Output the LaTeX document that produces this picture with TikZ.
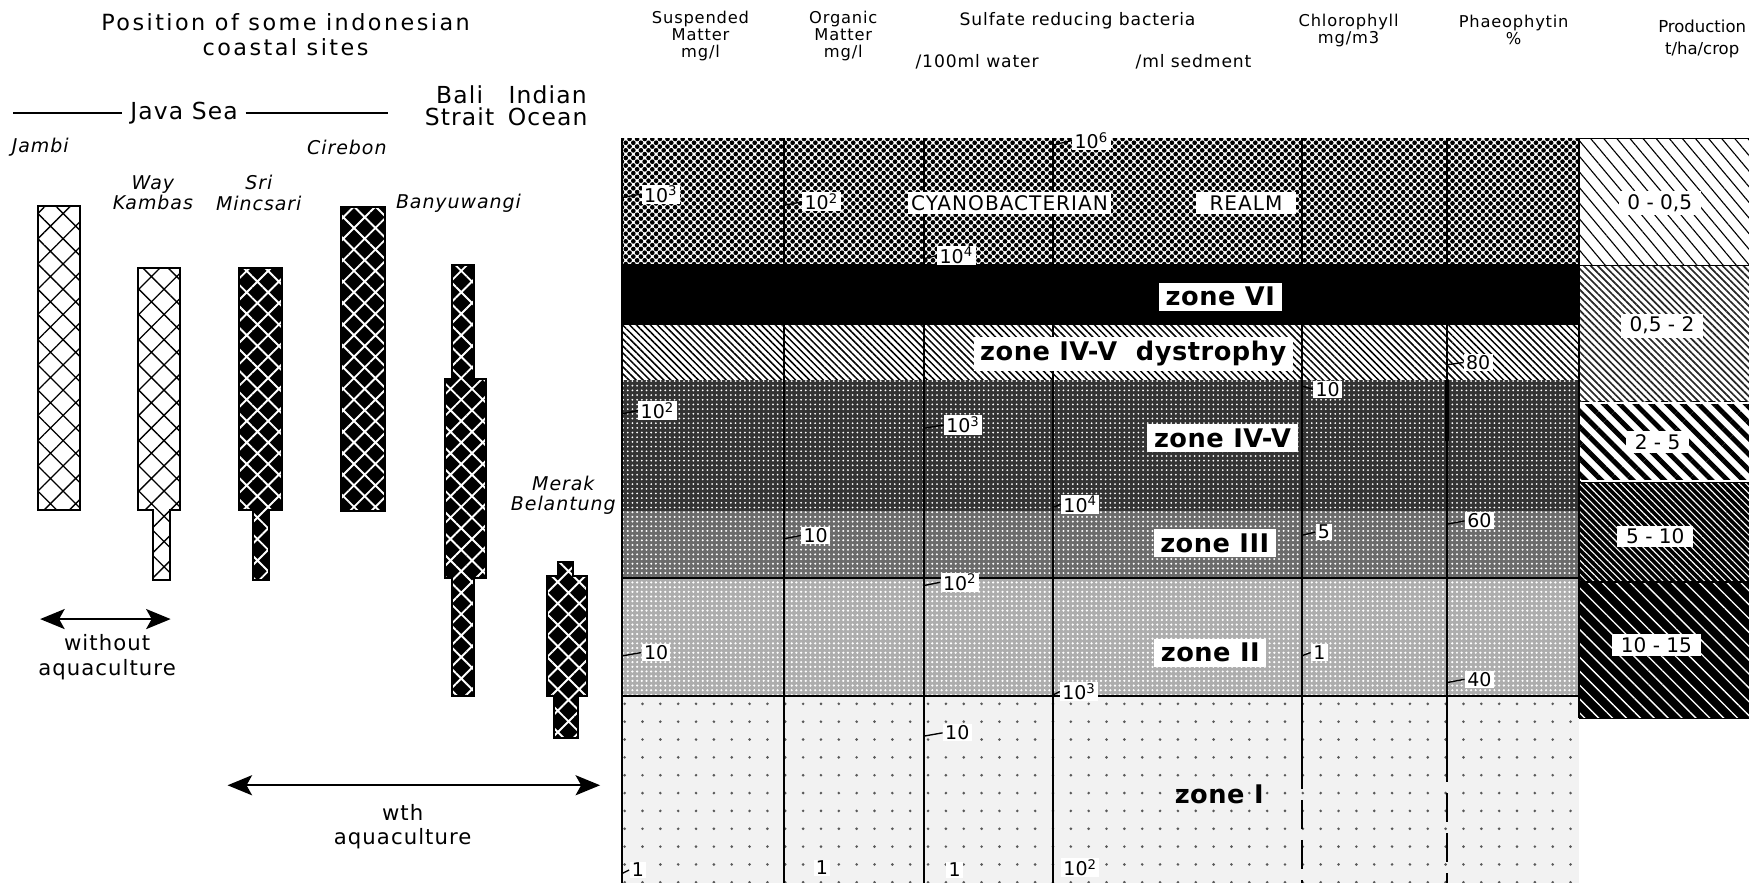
\documentclass[tikz,border=0pt]{standalone}
\usepackage{fontspec}
\setmainfont{DejaVu Sans}
\newfontfamily\titlefont[LetterSpace=11]{DejaVu Sans}
\newfontfamily\hdrfont[LetterSpace=5]{DejaVu Sans}
\newfontfamily\zonefont[LetterSpace=2]{DejaVu Sans}
\usetikzlibrary{patterns.meta,arrows.meta}
\tikzset{
  realm/.style={fill=white, postaction={pattern={Dots[distance=3.4pt,radius=1.05pt]},pattern color=black}, postaction={pattern={Dots[distance=3.4pt,radius=1.05pt,xshift=1.7pt,yshift=1.7pt]},pattern color=black}},
  zsix/.style={fill=black},
  dystro/.style={fill=white, postaction={pattern={Lines[angle=-45,distance=2.2pt,line width=0.68pt]},pattern color=black}},
  zfour/.style={fill=black!80, postaction={pattern={Dots[distance=2.1pt,radius=0.45pt]},pattern color=white}},
  zthree/.style={fill=black!58, postaction={pattern={Dots[distance=2.1pt,radius=0.5pt]},pattern color=white}},
  ztwo/.style={fill=black!32, postaction={pattern={Dots[distance=2.1pt,radius=0.55pt]},pattern color=white}},
  zonea/.style={fill=black!5, postaction={pattern={Dots[distance=8pt,radius=0.65pt]},pattern color=black!65}},
  pa/.style={fill=white, postaction={pattern={Lines[angle=-50,distance=4.5pt,line width=0.5pt]},pattern color=black}},
  pb/.style={fill=white, postaction={pattern={Lines[angle=-45,distance=2.2pt,line width=0.75pt]},pattern color=black!85}},
  pc/.style={fill=white, postaction={pattern={Lines[angle=-45,distance=5pt,line width=2.2pt]},pattern color=black}},
  pd/.style={fill=black, postaction={pattern={Lines[angle=-45,distance=2.2pt,line width=0.5pt]},pattern color=white}},
  pe/.style={fill=black, postaction={pattern={Lines[angle=-45,distance=4.4pt,line width=0.6pt]},pattern color=white}},
  lightbar/.style={preaction={fill=white}, pattern={Hatch[angle=45,distance=8pt,line width=0.6pt]}, pattern color=black, draw=black, line width=0.9pt},
  darkbar/.style={preaction={fill=black}, pattern={Hatch[angle=45,distance=6.8pt,line width=0.85pt]}, pattern color=white, draw=black, line width=0.9pt},
  col/.style={line width=0.9pt},
  dcol/.style={line width=0.9pt, dash pattern=on 13pt off 5pt},
  val/.style={fill=white, inner xsep=1pt, inner ysep=0.6pt, anchor=west, font=\fontsize{8.5}{9}\selectfont},
  zlab/.style={fill=white, inner xsep=3pt, inner ysep=2pt, font=\zonefont\bfseries\fontsize{11.5}{12}\selectfont},
  prod/.style={fill=white, inner xsep=4pt, inner ysep=1.5pt, font=\fontsize{9}{10}\selectfont},
  hdr/.style={align=center, font=\hdrfont\fontsize{7.3}{7.6}\selectfont},
  site/.style={align=center, font=\hdrfont\itshape\fontsize{8.5}{9}\selectfont},
  sea/.style={align=center, font=\hdrfont\fontsize{10.5}{10}\selectfont},
  tick/.style={line width=0.6pt},
  dbl/.style={{Stealth[length=11pt,width=9pt,inset=2.5pt]}-{Stealth[length=11pt,width=9pt,inset=2.5pt]}, line width=0.9pt}
}
\begin{document}
\begin{tikzpicture}[x=0.5pt,y=-0.5pt]
\useasboundingbox (0,0) rectangle (1568,791);
\clip (0,0) rectangle (1568,791);
% ---------------- left part ----------------
\node[align=center, font=\titlefont\fontsize{10}{11.5}\selectfont] (title) at (256,31) {Position of some indonesian\\coastal sites};
\node[sea] (java) at (165,101) {Java Sea};
\coordinate (jl) at (12,101); \coordinate (jr) at (348,101);
\draw[line width=0.8pt] (jl) -- (java.west);
\draw[line width=0.8pt] (java.east) -- (jr);
\node[sea] (bali) at (412,95) {Bali\\Strait};
\node[sea] (indian) at (491,95) {Indian\\Ocean};
\node[site] (jambi) at (36,132) {Jambi};
\node[site] (cirebon) at (311,132) {Cirebon};
\node[site] (way) at (137,173) {Way\\Kambas};
\node[site] (sri) at (232,173) {Sri\\Mincsari};
\node[site] (banyu) at (411,182) {Banyuwangi};
\node[site] (merak) at (505,444) {Merak\\Belantung};
% bars
\path[lightbar] (34,185) rectangle (72,457);
\path[lightbar] (124,240) -- (161,240) -- (161,457) -- (152,457) -- (152,520) -- (137,520) -- (137,457) -- (124,457) -- cycle;
\path[darkbar] (214,240) -- (253,240) -- (253,457) -- (241,457) -- (241,520) -- (227,520) -- (227,457) -- (214,457) -- cycle;
\path[darkbar] (306,186) rectangle (345,458);
\path[darkbar] (405,238) -- (425,238) -- (425,340) -- (436,340) -- (436,518) -- (425,518) -- (425,624) -- (405,624) -- (405,518) -- (399,518) -- (399,340) -- (405,340) -- cycle;
\path[darkbar] (500,504) -- (514,504) -- (514,516) -- (526,516) -- (526,624) -- (518,624) -- (518,662) -- (497,662) -- (497,624) -- (490,624) -- (490,516) -- (500,516) -- cycle;
% arrows
\coordinate (wa) at (36,555); \coordinate (wb) at (153,555);
\draw[dbl] (wa) -- (wb);
\node[align=center, font=\hdrfont\fontsize{9.5}{11}\selectfont] (without) at (96,589) {without\\aquaculture};
\coordinate (aa) at (204,704); \coordinate (ab) at (538,704);
\draw[dbl] (aa) -- (ab);
\node[align=center, font=\hdrfont\fontsize{9.5}{11}\selectfont] (with) at (361,741) {wth\\aquaculture};
% ---------------- headers ----------------
\node[hdr] (h1) at (628,32) {Suspended\\Matter\\mg/l};
\node[hdr] (h2) at (756,32) {Organic\\Matter\\mg/l};
\node[hdr, font=\hdrfont\fontsize{7.7}{8}\selectfont] (h3) at (966,19) {Sulfate reducing bacteria};
\node[hdr, font=\hdrfont\fontsize{7.7}{8}\selectfont] (h3a) at (876,55) {/100ml water};
\node[hdr, font=\hdrfont\fontsize{7.7}{8}\selectfont] (h3b) at (1070,55) {/ml sedment};
\node[hdr] (h4) at (1209,27) {Chlorophyll\\mg/m3};
\node[hdr] (h5) at (1357,27) {Phaeophytin\\\%};
\node[align=center, font=\fontsize{7.4}{9.5}\selectfont] (h6) at (1526,35) {Production\\t/ha/crop};
% ---------------- zones ----------------
\path[realm] (558,124) rectangle (1416,237);
\path[zsix] (558,237) rectangle (1416,291);
\path[dystro] (558,291) rectangle (1416,341);
\path[zfour] (558,341) rectangle (1416,458);
\path[zthree] (558,458) rectangle (1416,518);
\path[ztwo] (558,518) rectangle (1416,624);
\path[zonea] (558,624) rectangle (1416,800);
% production
\path[pa] (1416,124) rectangle (1575,238);
\path[pb] (1416,238) rectangle (1575,360);
\path[pc] (1416,360) rectangle (1575,432);
\path[pd] (1416,432) rectangle (1575,522);
\path[pe] (1416,522) rectangle (1575,644);
\draw[line width=0.7pt] (1416,124) -- (1575,124) (1416,238) -- (1575,238) (1416,432) -- (1575,432) (1416,522) -- (1575,522) (1416,644) -- (1575,644);
\draw[white, line width=1pt] (1417,361) -- (1575,361) (1417,431) -- (1575,431);
\draw[line width=0.9pt] (1416,124) -- (1416,644);
% column lines
\draw[col] (558,124) -- (558,800);
\draw[col] (703,124) -- (703,800);
\draw[col] (828,124) -- (828,800);
\draw[col] (944,124) -- (944,800);
\draw[col] (1167,124) -- (1167,681);
\draw[dcol] (1167,681) -- (1167,800);
\draw[col] (1297,124) -- (1297,675);
\draw[line width=1.8pt] (1297,341) -- (1297,395);
\draw[dcol] (1297,675) -- (1297,800);
\draw[line width=0.9pt] (558,518) -- (1416,518);
\draw[line width=0.9pt] (558,624) -- (1416,624);
% ---------------- labels ----------------
\node[val] (a1) at (575,174) {10\textsuperscript{3}};   \draw[tick] (558,177) -- (a1.west);
\node[val] (a2) at (719,181) {10\textsuperscript{2}};   \draw[tick] (703,184) -- (a2.west);
\node[val] (a3) at (961,126) {10\textsuperscript{6}};   \draw[tick] (944,130) -- (a3.west);
\node[val] (a4) at (840,229) {10\textsuperscript{4}};   \draw[tick] (828,232) -- (a4.west);
\node[fill=white, inner sep=1.5pt, font=\hdrfont\fontsize{9}{10}\selectfont] (cyan) at (905,182) {CYANOBACTERIAN};
\node[fill=white, inner xsep=6pt, inner ysep=1.5pt, font=\hdrfont\fontsize{9}{10}\selectfont] (realmlab) at (1117,182) {REALM};
\node[zlab] (z6) at (1094,266) {zone VI};
\node[zlab] (z45d) at (1016,317) {zone IV-V\ \ dystrophy};
\node[val] (b1) at (1312,325) {80};   \draw[tick] (1297,327) -- (b1.west);
\node[val] (b2) at (1177,349) {10};   \draw[tick] (1167,346) -- (b2.west);
\node[val] (c1) at (572,368) {10\textsuperscript{2}};   \draw[tick] (558,371) -- (c1.west);
\node[val] (c2) at (846,381) {10\textsuperscript{3}};   \draw[tick] (828,384) -- (c2.west);
\node[zlab] (z45) at (1096,393) {zone IV-V};
\node[val] (c3) at (951,452) {10\textsuperscript{4}};   \draw[tick] (944,455) -- (c3.west);
\node[val] (d1) at (718,480) {10};   \draw[tick] (703,483) -- (d1.west);
\node[zlab] (z3) at (1089,487) {zone III};
\node[val] (d2) at (1179,477) {5};   \draw[tick] (1167,480) -- (d2.west);
\node[val] (d3) at (1313,467) {60};   \draw[tick] (1297,470) -- (d3.west);
\node[val] (d4) at (843,522) {10\textsuperscript{2}};   \draw[tick] (828,525) -- (d4.west);
\node[val] (e1) at (575,585) {10};   \draw[tick] (558,588) -- (e1.west);
\node[zlab] (z2) at (1085,585) {zone II};
\node[val] (e2) at (1175,585) {1};   \draw[tick] (1167,588) -- (e2.west);
\node[val] (e3) at (1313,609) {40};   \draw[tick] (1297,612) -- (e3.west);
\node[val] (e4) at (950,620) {10\textsuperscript{3}};   \draw[tick] (944,623) -- (e4.west);
\node[val] (f1) at (845,657) {10};   \draw[tick] (828,660) -- (f1.west);
\node[font=\zonefont\bfseries\fontsize{11.5}{12}\selectfont] (z1) at (1093,712) {zone I};
\node[val] (g1) at (564,780) {1};   \draw[tick] (558,783) -- (g1.west);
\node[val] (g2) at (729,778) {1};
\node[val] (g3) at (848,780) {1};
\node[val] (g4) at (951,778) {10\textsuperscript{2}};
% production labels
\node[prod] (p1) at (1488,182) {0 - 0,5};
\node[prod] (p2) at (1490,292) {0,5 - 2};
\node[prod] (p3) at (1486,396) {2 - 5};
\node[prod] (p4) at (1484,481) {5 - 10};
\node[prod] (p5) at (1485,578) {10 - 15};
\end{tikzpicture}
\end{document}
